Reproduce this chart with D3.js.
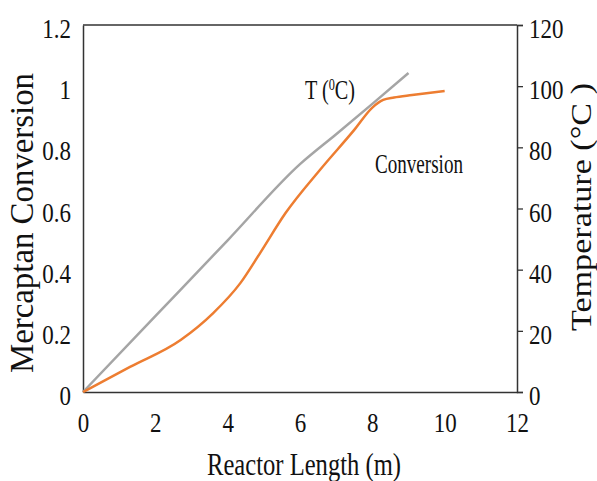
<!DOCTYPE html>
<html>
<head>
<meta charset="utf-8">
<script src="https://cdn.jsdelivr.net/npm/d3@7"></script>
<style>
  body { margin: 0; background: #fff; }
  svg { display: block; }
  text { font-family: "Liberation Serif", "Times New Roman", serif; fill: #111; }
</style>
</head>
<body>
<svg id="chart" width="597" height="481"></svg>
<script>
// data
var lengthT = [0, 2, 4, 6, 7, 8, 9];
var tempT = [0, 24.8, 49.6, 74.5, 84.3, 94.2, 104.3];

var lengthX = [0, 1.3, 2.7, 3.6, 4.35, 4.9, 5.6, 6.55, 7.5, 8.0, 8.3, 8.6, 9.1, 10];
var conversion = [0, 0.082, 0.17, 0.258, 0.356, 0.455, 0.585, 0.726, 0.857, 0.93, 0.955, 0.963, 0.971, 0.984];

var xTicks = [0, 2, 4, 6, 8, 10, 12];
var convTicks = [0, 0.2, 0.4, 0.6, 0.8, 1, 1.2];
var tempTicks = [0, 20, 40, 60, 80, 100, 120];

//Layout-------------------------------------------------------------------------
var plotLeft = 83, plotRight = 517, plotTop = 25, plotBottom = 392;
var svg = d3.select("#chart");

var x = d3.scaleLinear().domain([0, 12]).range([plotLeft, plotRight]);
var yConv = d3.scaleLinear().domain([0, 1.2]).range([plotBottom, plotTop]);
var yTemp = d3.scaleLinear().domain([0, 120]).range([plotBottom, plotTop]);

// squeeze tick text sideways like the picture
function squish(sel, f) {
  sel.each(function() {
    var w = this.getComputedTextLength();
    d3.select(this).attr("textLength", w * f).attr("lengthAdjust", "spacingAndGlyphs");
  });
}

//Axes---------------------------------------------------------------------------
var gx = svg.append("g")
  .attr("transform", "translate(0," + plotBottom + ")")
  .call(d3.axisBottom(x).tickValues(xTicks).tickSize(0).tickPadding(20).tickFormat(d3.format("d")));

var gl = svg.append("g")
  .attr("transform", "translate(" + plotLeft + ",0)")
  .call(d3.axisLeft(yConv).tickValues(convTicks).tickSize(0).tickPadding(12).tickFormat(function(d) { return String(d); }));

var gr = svg.append("g")
  .attr("transform", "translate(" + plotRight + ",0)")
  .call(d3.axisRight(yTemp).tickValues(tempTicks).tickSize(6).tickPadding(6).tickFormat(d3.format("d")));

[gx, gl, gr].forEach(function(g) {
  g.attr("font-family", null).attr("font-size", null);
  g.select(".domain").attr("stroke", "#333").attr("stroke-width", 1.5);
  g.selectAll(".tick line").attr("stroke", "#333").attr("stroke-width", 1.3);
  g.selectAll(".tick text").style("font-size", "28px").attr("fill", "#111");
  g.selectAll(".tick text").call(squish, 0.82);
});
gl.selectAll(".tick text").attr("dy", "0.45em");
gr.selectAll(".tick text").attr("dy", "0.45em");

// top border of the box
svg.append("line")
  .attr("x1", plotLeft).attr("x2", plotRight)
  .attr("y1", plotTop).attr("y2", plotTop)
  .attr("stroke", "#333").attr("stroke-width", 1.5);

//Lines--------------------------------------------------------------------------
var tempLine = d3.line()
  .x(function(d, i) { return x(lengthT[i]); })
  .y(function(d) { return yTemp(d); })
  .curve(d3.curveMonotoneX);

var convLine = d3.line()
  .x(function(d, i) { return x(lengthX[i]); })
  .y(function(d) { return yConv(d); })
  .curve(d3.curveMonotoneX);

svg.append("path")
  .datum(tempT)
  .attr("d", tempLine)
  .attr("fill", "none")
  .attr("stroke", "#a5a5a5")
  .attr("stroke-width", 2.5);

svg.append("path")
  .datum(conversion)
  .attr("d", convLine)
  .attr("fill", "none")
  .attr("stroke", "#ed7d31")
  .attr("stroke-width", 2.5);

//Titles and labels--------------------------------------------------------------
function label(txt, px, py, size, len, rot) {
  var t = svg.append("text")
    .attr("transform", "translate(" + px + "," + py + ")" + (rot ? " rotate(" + rot + ")" : ""))
    .attr("text-anchor", "middle")
    .style("font-size", size + "px")
    .text(txt);
  t.attr("textLength", len).attr("lengthAdjust", "spacingAndGlyphs");
  return t;
}

label("Reactor Length (m)", 304, 475, 32, 194, 0);
label("Mercaptan Conversion", 33, 223, 33, 300, -90);
label("Temperature (\u00B0C )", 591, 207, 30, 248, -90);
label("Conversion", 419, 173, 28, 88, 0);

// T (0C) with a raised zero
var tl = svg.append("text")
  .attr("x", 305).attr("y", 99)
  .style("font-size", "28px")
  .attr("textLength", 50).attr("lengthAdjust", "spacingAndGlyphs");
tl.append("tspan").text("T (");
tl.append("tspan").attr("dy", -9).style("font-size", "17px").text("0");
tl.append("tspan").attr("dy", 9).text("C)");
</script>
</body>
</html>
